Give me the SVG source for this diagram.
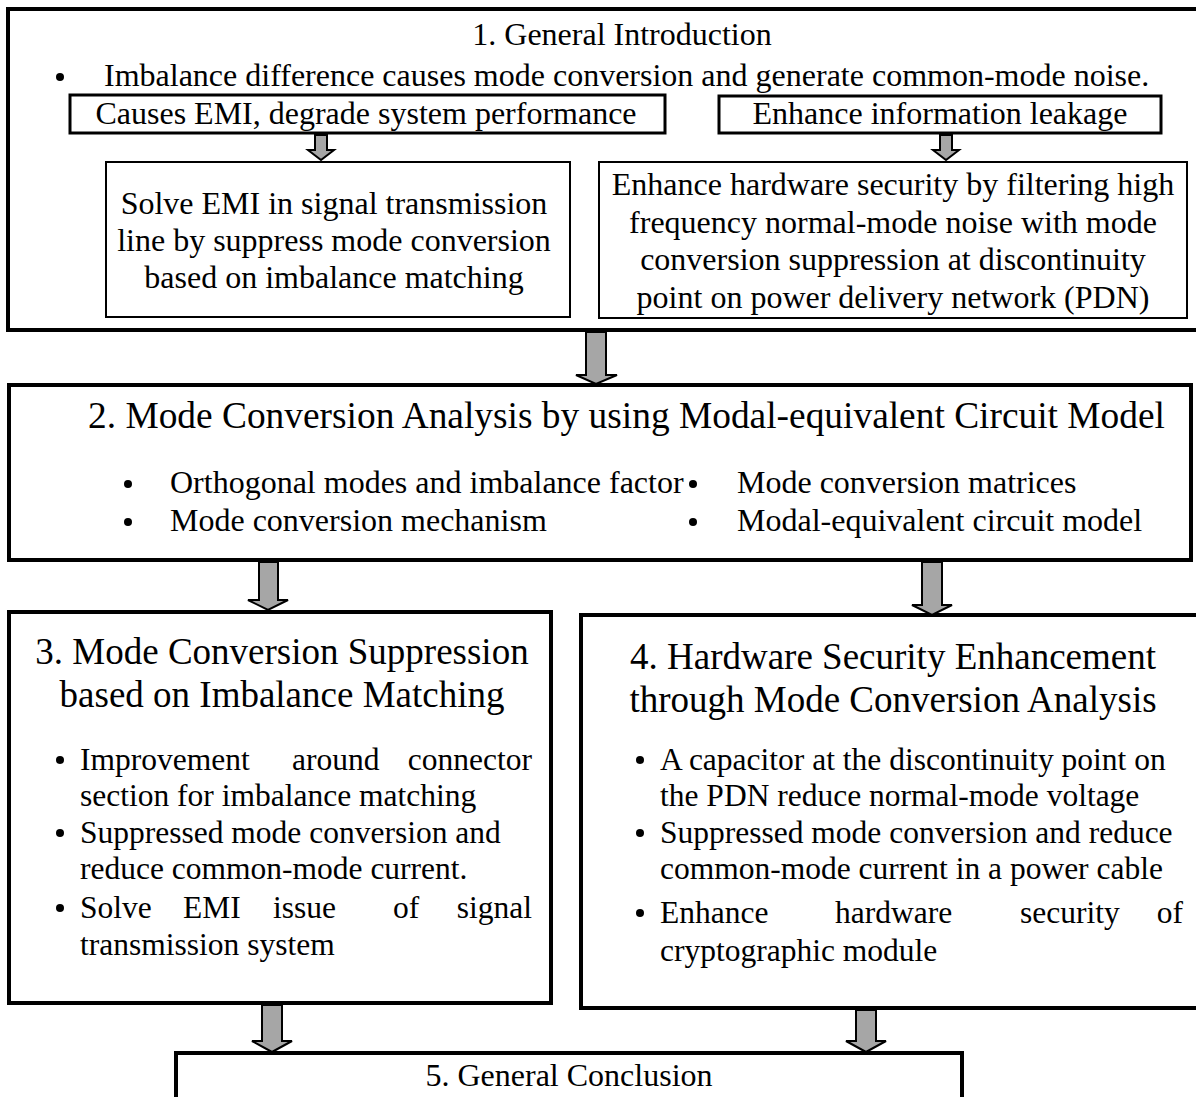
<svg xmlns="http://www.w3.org/2000/svg" width="1196" height="1097" viewBox="0 0 1196 1097">
<style>
text{font-family:"Liberation Serif","Times New Roman",serif;fill:#000;font-size:32px}
.c{text-anchor:middle}
.e{text-anchor:end}
.t{font-size:37px}
.t2{font-size:37.4px}
.b{font-size:31.5px}
.big{fill:#fff;stroke:#000;stroke-width:4}
.mid{fill:#fff;stroke:#000;stroke-width:3}
.thin{fill:#fff;stroke:#000;stroke-width:2}
.arr{fill:#a6a6a6;stroke:#000;stroke-width:2;stroke-linejoin:miter}
</style>
<rect width="1196" height="1097" fill="#fff"/>
<g id="node1">
<rect class="big" x="8" y="9" width="1200" height="321"/>
<text class="c" x="622" y="45">1. General Introduction</text>
<circle cx="60" cy="77" r="4"/>
<text x="104" y="86">Imbalance difference causes mode conversion and generate common-mode noise.</text>
</g>
<g id="node1a">
<rect class="mid" x="70" y="95" width="595" height="38"/>
<text class="c" x="366" y="124">Causes EMI, degrade system performance</text>
</g>
<g id="node1b">
<rect class="mid" x="719" y="96" width="442" height="37"/>
<text class="c" x="940" y="124">Enhance information leakage</text>
</g>
<g id="node1c">
<rect class="thin" x="106" y="162" width="464" height="155"/>
<text class="c" x="334" y="214">Solve EMI in signal transmission</text>
<text class="c" x="334" y="251">line by suppress mode conversion</text>
<text class="c" x="334" y="288">based on imbalance matching</text>
</g>
<g id="node1d">
<rect class="thin" x="599" y="162" width="588" height="156"/>
<text class="c" x="893" y="195">Enhance hardware security by filtering high</text>
<text class="c" x="893" y="233">frequency normal-mode noise with mode</text>
<text class="c" x="893" y="270">conversion suppression at discontinuity</text>
<text class="c" x="893" y="308">point on power delivery network (PDN)</text>
</g>
<g id="node2">
<rect class="big" x="9" y="385" width="1182" height="175"/>
<text class="t2" x="88" y="428">2. Mode Conversion Analysis by using Modal-equivalent Circuit Model</text>
<circle cx="128" cy="484" r="4"/>
<text x="170" y="493">Orthogonal modes and imbalance factor</text>
<circle cx="128" cy="522" r="4"/>
<text x="170" y="531">Mode conversion mechanism</text>
<circle cx="693" cy="484" r="4"/>
<text x="737" y="493">Mode conversion matrices</text>
<circle cx="693" cy="522" r="4"/>
<text x="737" y="531">Modal-equivalent circuit model</text>
</g>
<g id="node3">
<rect class="big" x="9" y="612" width="542" height="391"/>
<text class="c t" x="282" y="664">3. Mode Conversion Suppression</text>
<text class="c t" x="282" y="707">based on Imbalance Matching</text>
<circle cx="60" cy="760" r="4"/>
<text class="b" x="80" y="770">Improvement</text>
<text class="b" x="292" y="770">around</text>
<text class="b e" x="532" y="770">connector</text>
<text class="b" x="80" y="806">section for imbalance matching</text>
<circle cx="60" cy="833" r="4"/>
<text class="b" x="80" y="843">Suppressed mode conversion and</text>
<text class="b" x="80" y="879">reduce common-mode current.</text>
<circle cx="60" cy="908" r="4"/>
<text class="b" x="80" y="918">Solve</text>
<text class="b" x="183" y="918">EMI</text>
<text class="b" x="273" y="918">issue</text>
<text class="b" x="393" y="918">of</text>
<text class="b e" x="532" y="918">signal</text>
<text class="b" x="80" y="955">transmission system</text>
</g>
<g id="node4">
<rect class="big" x="581" y="615" width="630" height="393"/>
<text class="c t" x="893" y="669">4. Hardware Security Enhancement</text>
<text class="c t" x="893" y="712">through Mode Conversion Analysis</text>
<circle cx="640" cy="760" r="4"/>
<text class="b" x="660" y="770">A capacitor at the discontinuity point on</text>
<text class="b" x="660" y="806">the PDN reduce normal-mode voltage</text>
<circle cx="640" cy="833" r="4"/>
<text class="b" x="660" y="843">Suppressed mode conversion and reduce</text>
<text class="b" x="660" y="879">common-mode current in a power cable</text>
<circle cx="640" cy="913" r="4"/>
<text class="b" x="660" y="923">Enhance</text>
<text class="b" x="835" y="923">hardware</text>
<text class="b" x="1020" y="923">security</text>
<text class="b e" x="1183" y="923">of</text>
<text class="b" x="660" y="961">cryptographic module</text>
</g>
<g id="node5">
<rect class="big" x="176" y="1053" width="786" height="80"/>
<text class="c" x="569" y="1086">5. General Conclusion</text>
</g>
<g id="connectors">
<polygon class="arr" points="315,135 327,135 327,150 334,150 321,160 308,150 315,150"/>
<polygon class="arr" points="940,135 952,135 952,150 959,150 946,160 933,150 940,150"/>
<polygon class="arr" points="586,332 606,332 606,375 617,375 596,384 576,375 586,375"/>
<polygon class="arr" points="259,562 278,562 278,600 288,600 268,610 248,600 259,600"/>
<polygon class="arr" points="922,562 942,562 942,605 952,605 932,615 912,605 922,605"/>
<polygon class="arr" points="262,1005 282,1005 282,1041 292,1041 272,1052 252,1041 262,1041"/>
<polygon class="arr" points="856,1010 876,1010 876,1041 886,1041 866,1052 846,1041 856,1041"/>
</g>
</svg>
